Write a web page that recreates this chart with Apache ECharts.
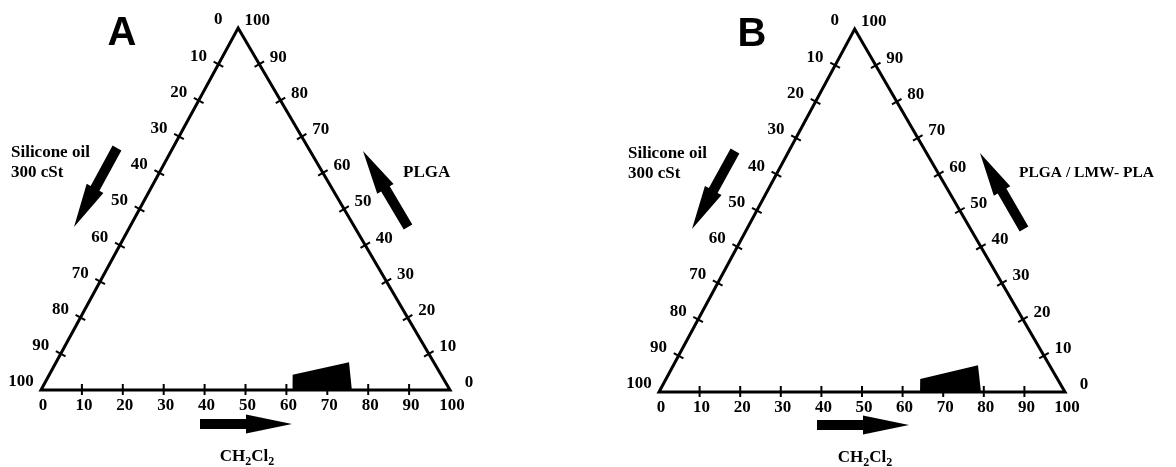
<!DOCTYPE html>
<html><head><meta charset="utf-8">
<script src="https://cdn.jsdelivr.net/npm/echarts@6/dist/echarts.min.js"></script>
<style>html,body{margin:0;padding:0;background:#fff}#c{width:1176px;height:467px}</style>
</head><body><div id="c"></div>
<script>
// ---- data ----
const panelLetters = ['A', 'B'];
const sideTicks = [10, 20, 30, 40, 50, 60, 70, 80, 90];
const bottomLabels = ['0', '10', '20', '30', '40', '50', '60', '70', '80', '90', '100']; // CH2Cl2, left -> right
const leftLabels = ['0', '10', '20', '30', '40', '50', '60', '70', '80', '90', '100'];   // silicone oil, top -> bottom-left
const rightLabels = ['100', '90', '80', '70', '60', '50', '40', '30', '20', '10', '0'];  // polymer, top -> bottom-right
// phase region vertices: [CH2Cl2 %, polymer %]
const regionA = [[61.5, 0], [59.5, 4.2], [71.6, 7.7], [76.0, 0]];
const regionB = [[64.3, 0], [62.6, 3.6], [75.0, 7.4], [79.3, 0]];
const oilTitle = ['Silicone oil', '300 cSt'];
const polymerTitles = ['PLGA', 'PLGA / LMW- PLA'];
const solventTitle = '{a|CH}{s|2}{a|Cl}{s|2}';

// ---- layout ----
const APEX = 48.2; // apex horizontal position, % of base
const FONT = 'bold 17px "Liberation Serif"';
const grids = [
  {left: 41, top: 28, width: 409, height: 362},
  {left: 659, top: 29, width: 406, height: 363}
];

function txt(text, x, y, align, font) {
  return {type: 'text', style: {text: text, x: x, y: y, fill: '#000', font: font || FONT,
    align: align || 'center', verticalAlign: 'middle', textAlign: align || 'center', textVerticalAlign: 'middle'}};
}

function makeRender(region) {
  return function (params, api) {
    const P = (c, p) => api.coord([c + p * APEX / 100, p]);
    const ch = [];
    ch.push({type: 'polygon', shape: {points: region.map(d => P(d[0], d[1]))}, style: {fill: '#000'}});
    const BL = P(0, 0), TOP = P(0, 100), BR = P(100, 0);
    ch.push({type: 'polygon', shape: {points: [BL, TOP, BR]},
      style: {fill: null, stroke: '#000', lineWidth: 3, lineJoin: 'miter'}});
    const seg = (pt, nx, ny, a, b) => ({type: 'line',
      shape: {x1: pt[0] - nx * a, y1: pt[1] - ny * a, x2: pt[0] + nx * b, y2: pt[1] + ny * b},
      style: {stroke: '#000', lineWidth: 2}});
    const norm = (A, B) => { const dx = B[0] - A[0], dy = B[1] - A[1], L = Math.hypot(dx, dy); return [-dy / L, dx / L]; };
    const nL = norm(BL, TOP), nR = norm(TOP, BR);
    sideTicks.forEach(v => {
      ch.push(seg(P(v, 0), 0, 1, 6, 5));
      ch.push(seg(P(0, 100 - v), nL[0], nL[1], 5.5, 5.5));
      ch.push(seg(P(100 - v, v), nR[0], nR[1], 5.5, 5.5));
    });
    bottomLabels.forEach(l => { const v = Number(l); const q = P(v, 0); ch.push(txt(l, q[0] + 2, q[1] + 16)); });
    leftLabels.forEach(l => { const v = Number(l); const q = P(0, 100 - v); ch.push(txt(l, q[0] - 20, q[1] - 8)); });
    rightLabels.forEach(l => { const v = Number(l); const q = P(100 - v, v); ch.push(txt(l, q[0] + 19, q[1] - 7)); });
    return {type: 'group', children: ch};
  };
}

function arrow(tail, tip, sw, hw, hl) {
  const dx = tip[0] - tail[0], dy = tip[1] - tail[1], L = Math.hypot(dx, dy);
  const ux = dx / L, uy = dy / L, nx = -uy, ny = ux;
  const bx = tip[0] - ux * hl, by = tip[1] - uy * hl;
  return {type: 'polygon', shape: {points: [
    [tail[0] + nx * sw / 2, tail[1] + ny * sw / 2],
    [bx + nx * sw / 2, by + ny * sw / 2],
    [bx + nx * hw / 2, by + ny * hw / 2],
    tip,
    [bx - nx * hw / 2, by - ny * hw / 2],
    [bx - nx * sw / 2, by - ny * sw / 2],
    [tail[0] - nx * sw / 2, tail[1] - ny * sw / 2]
  ]}, style: {fill: '#000'}};
}

const decor = [
  {letter: [122, 34], oil: [11, 153], oilArrow: [[117, 148], [74, 227]], polyArrow: [[408, 227], [363, 151]],
   poly: [403, 173], polyFont: FONT, solArrow: [[200, 424], [292, 424]], sol: [247, 457]},
  {letter: [752, 35], oil: [628, 154], oilArrow: [[735, 151], [692, 229]], polyArrow: [[1024, 229], [980, 153]],
   poly: [1019, 173], polyFont: 'bold 15.5px "Liberation Serif"', solArrow: [[817, 425], [909, 425]], sol: [865, 458]}
];
const graphics = [];
decor.forEach((d, i) => {
  graphics.push({type: 'text', x: d.letter[0], y: d.letter[1], style: {text: panelLetters[i], font: 'bold 40px "Liberation Sans"', fill: '#000', align: 'center', verticalAlign: 'middle'}});
  graphics.push({type: 'text', x: d.oil[0], y: d.oil[1], style: {text: oilTitle[0], font: FONT, fill: '#000', align: 'left', verticalAlign: 'middle'}});
  graphics.push({type: 'text', x: d.oil[0], y: d.oil[1] + 20, style: {text: oilTitle[1], font: FONT, fill: '#000', align: 'left', verticalAlign: 'middle'}});
  graphics.push({type: 'text', x: d.poly[0], y: d.poly[1], style: {text: polymerTitles[i], font: d.polyFont, fill: '#000', align: 'left', verticalAlign: 'middle'}});
  graphics.push(arrow(d.oilArrow[0], d.oilArrow[1], 10, 19, 44));
  graphics.push(arrow(d.polyArrow[0], d.polyArrow[1], 10, 19, 44));
  graphics.push(arrow(d.solArrow[0], d.solArrow[1], 10, 19, 46));
  graphics.push({type: 'text', x: d.sol[0], y: d.sol[1], style: {text: solventTitle, fill: '#000', align: 'center', verticalAlign: 'middle',
    rich: {a: {font: FONT, fill: '#000'}, s: {font: 'bold 12px "Liberation Serif"', fill: '#000', padding: [10, 0, 0, 0]}}}});
});

const chart = echarts.init(document.getElementById('c'), null, {renderer: 'canvas'});
chart.setOption({
  animation: false,
  backgroundColor: '#fff',
  grid: grids,
  xAxis: grids.map((g, i) => ({type: 'value', gridIndex: i, min: 0, max: 100, show: false})),
  yAxis: grids.map((g, i) => ({type: 'value', gridIndex: i, min: 0, max: 100, show: false})),
  series: [regionA, regionB].map((r, i) => ({
    type: 'custom', xAxisIndex: i, yAxisIndex: i, clip: false, silent: true,
    data: [[0, 0]], renderItem: makeRender(r)
  })),
  graphic: graphics
});
</script></body></html>
